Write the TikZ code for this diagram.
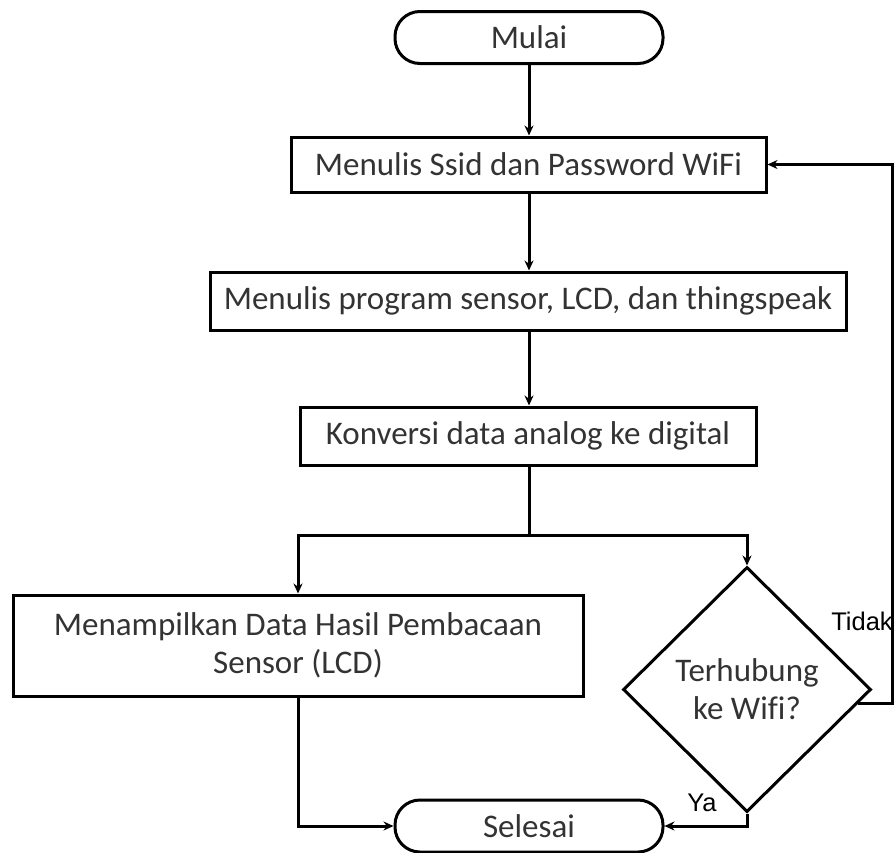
\documentclass[tikz,border=0pt]{standalone}
\usepackage{fontspec}
\setmainfont{Carlito}[Ligatures={NoCommon}]
\newfontfamily\labfont{Liberation Sans}
\usetikzlibrary{shapes.geometric,arrows.meta,calc}
\definecolor{txt}{HTML}{333333}
\tikzset{
  x=1pt,y=-1pt,
  box/.style={draw=black,line width=3pt,rectangle,inner sep=0pt,text=txt,font=\fontsize{33}{38}\selectfont,align=center},
  term/.style={box,rounded corners=25pt,minimum width=268pt,minimum height=52pt},
  dec/.style={draw=black,line width=3pt,diamond,inner sep=0pt,text=txt,font=\fontsize{33}{38}\selectfont,align=center,minimum width=248pt,minimum height=245pt},
  lab/.style={font=\labfont\fontsize{25.5}{29}\selectfont,text=black,inner sep=0pt},
  conn/.style={line width=3pt,-{Stealth[length=10pt,width=9pt]}},
  plain/.style={line width=3pt}
}
\begin{document}
\begin{tikzpicture}
\useasboundingbox (0,0) rectangle (894,852);
\node[term] (mulai) at (529,37.5) {Mulai};
\node[box,minimum width=475pt,minimum height=55pt] (b1) at (528.5,164.5) {Menulis Ssid dan Password WiFi};
\node[box,minimum width=636pt,minimum height=58pt] (b2) at (528,301) {Menulis program sensor, LCD, dan thingspeak};
\node[box,minimum width=456pt,minimum height=58pt] (b3) at (528,436) {Konversi data analog ke digital};
\node[box,minimum width=570pt,minimum height=101pt] (b4) at (298,645.5) {Menampilkan Data Hasil Pembacaan\\Sensor (LCD)};
\node[dec] (d) at (747,689.5) {Terhubung\\ke Wifi?};
\node[term] (selesai) at (529,826) {Selesai};
\node[lab] (tidak) at (862,621) {Tidak};
\node[lab] (ya) at (702,803) {Ya};
\coordinate (split) at (529,535);
\coordinate (tstart) at ($(d.east)!0.114!(d.south)$);
\coordinate (rx) at (892,0);
\draw[conn] (mulai.south) -- (b1.north -| mulai.south);
\draw[conn] (b1.south -| mulai.south) -- (b2.north -| mulai.south);
\draw[conn] (b2.south -| mulai.south) -- (b3.north -| mulai.south);
\draw[plain] (b3.south -| split) -- (split);
\draw[conn] (split) -| (b4.north);
\draw[conn] (split) -| (d.north);
\draw[conn] (b4.south) |- (selesai.west);
\draw[conn] (d.south) |- (selesai.east);
\draw[conn] (tstart) -- (tstart -| rx) |- (b1.east);
\end{tikzpicture}
\end{document}
